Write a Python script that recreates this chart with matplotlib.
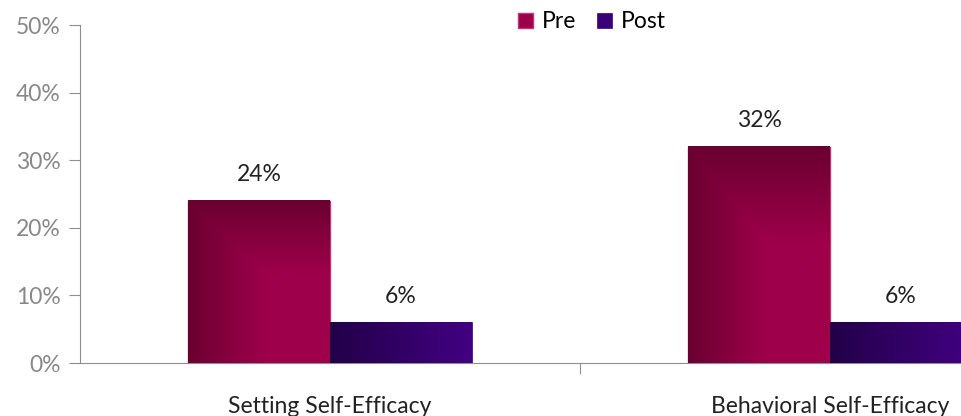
import matplotlib
matplotlib.use('Agg')
import matplotlib.pyplot as plt
import numpy as np

plt.rcParams['font.family'] = ['Lato', 'DejaVu Sans']

categories = ['Setting Self-Efficacy', 'Behavioral Self-Efficacy']
series = ['Pre', 'Post']
pre = [24, 32]
post = [6, 6]
yticks = [0, 10, 20, 30, 40, 50]

fig = plt.figure(figsize=(9.61, 4.16), dpi=100)
# axes run past the right edge, so the last bar is cut off
ax = fig.add_axes([80 / 961, 53 / 416, 1000 / 961, 338 / 416])

x = np.arange(len(categories))
w = 0.284


def gradient(left, right, top_dark, n=200):
    # horizontal ramp; Pre bars also get darker toward the top
    t = np.linspace(0, 1, n)
    if top_dark:
        hx = np.clip(t / 0.55, 0, 1)
        hy = np.clip(t / 0.45, 0, 1)  # row 0 = top of bar
        f = np.minimum(hx[None, :], hy[:, None])
    else:
        f = np.tile(t, (n, 1))
    left = np.array(left) / 255.0
    right = np.array(right) / 255.0
    return left + (right - left) * f[..., None]


pre_img = gradient((106, 0, 48), (158, 0, 74), True)
post_img = gradient((34, 0, 72), (66, 0, 130), False)

b1 = ax.bar(x - w / 2, pre, w, color='#9b0048', edgecolor='#c8307a', linewidth=1, label='Pre', zorder=2)
b2 = ax.bar(x + w / 2, post, w, color='#3a0078', edgecolor='#3a0078', linewidth=0.5, label='Post', zorder=2)

for bars, img in ((b1, pre_img), (b2, post_img)):
    for r in bars:
        x0, h, bw = r.get_x(), r.get_height(), r.get_width()
        ax.imshow(img, extent=[x0, x0 + bw, 0, h], origin='upper', aspect='auto', zorder=3)
        ax.text(x0 + bw / 2, h + 2.3, f'{h:g}%', ha='center', va='bottom',
                fontsize=16.5, color='#222222', zorder=4)

ax.set_xlim(-0.5, 1.5)
ax.set_ylim(0, 50)
ax.set_yticks(yticks)
ax.set_yticklabels([f'{v}%' for v in yticks])
ax.set_xticks([0.5])
ax.set_xticklabels([''])
for i, c in enumerate(categories):
    ax.text(x[i], -4.9, c, ha='center', va='top', fontsize=16.5, color='#222222')

for s in ('top', 'right'):
    ax.spines[s].set_visible(False)
for s in ('left', 'bottom'):
    ax.spines[s].set_color('#8f8f8f')
ax.tick_params(axis='y', colors='#8f8f8f', labelcolor='#888888', labelsize=16.5, length=8, pad=6)
ax.tick_params(axis='x', colors='#8f8f8f', length=8, direction='out')

fig.legend(handles=[b1, b2], labels=series, loc='center', bbox_to_anchor=(592 / 961, 1 - 22 / 416),
           ncol=2, frameon=False, fontsize=16.5, handlelength=0.65, handleheight=0.65,
           handletextpad=0.4, columnspacing=0.9)

fig.savefig('out.png', dpi=100)
